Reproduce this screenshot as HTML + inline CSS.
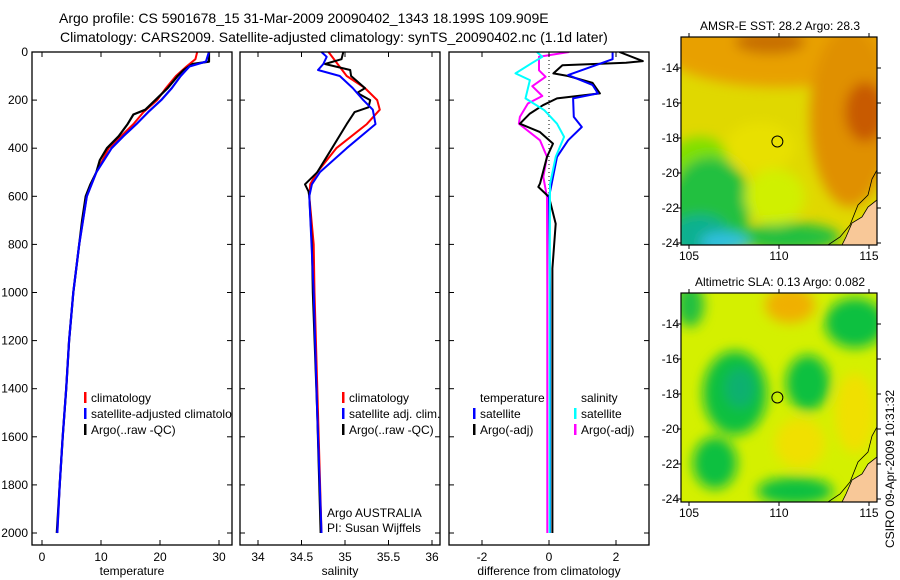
<!DOCTYPE html>
<html><head><meta charset="utf-8"><style>
html,body{margin:0;padding:0;background:#fff;}
svg{display:block;font-family:"Liberation Sans",sans-serif;}
</style></head><body>
<svg id="chart" width="900" height="580" viewBox="0 0 900 580">
<text x="59" y="23" font-size="14">Argo profile: CS 5901678_15 31-Mar-2009 20090402_1343 18.199S 109.909E</text>
<text x="60" y="42" font-size="14">Climatology: CARS2009. Satellite-adjusted climatology: synTS_20090402.nc (1.1d later)</text>
<g id="panels"></g>
<g id="maps"></g>
<text transform="translate(894,548) rotate(-90)" font-size="12">CSIRO 09-Apr-2009 10:31:32</text>
</svg>
<script>
// ---- data ----
const depthTicks=[0,200,400,600,800,1000,1200,1400,1600,1800,2000];
const tempTicks=[0,10,20,30];
const salTicks=[34,34.5,35,35.5,36];
const salTickLabels=["34","34.5","35","35.5","36"];
const diffTicks=[-2,0,2];
const tClimD=[0,30,60,100,150,200,250,300,400,500,600,800,1000,1200,1400,1600,1800,2000];
const tClimV=[26.3,26,24.5,22.7,21,19.5,17.2,15.5,11.3,9.2,7.6,6.3,5.3,4.6,4.1,3.5,3.0,2.6];
const tSatD=[0,40,60,100,150,200,250,300,350,400,500,600,800,1000,1200,1400,1600,1800,2000];
const tSatV=[28.3,27.8,25,23.5,22,20.2,18,16,13.8,11.8,9.2,7.6,6.3,5.3,4.6,4.1,3.5,3.0,2.6];
const tArgoD=[0,40,50,75,100,150,200,240,260,300,350,400,450,500,550,600,700,800,1000,1200,1400,1600,1800,2000];
const tArgoV=[28.3,28.3,25.5,24,23,21.3,19.2,17.5,15.5,14.5,13,11,9.8,9.2,8.2,7.4,6.8,6.3,5.3,4.6,4.1,3.5,3.0,2.5];
const sClimD=[0,100,150,200,240,300,400,500,550,600,800,1000,1500,2000];
const sClimV=[34.81,35.02,35.23,35.37,35.4,35.25,34.9,34.68,34.6,34.59,34.64,34.65,34.69,34.73];
const sSatD=[0,20,50,75,100,150,200,240,300,400,500,550,600,1000,1500,2000];
const sSatV=[34.73,34.79,34.75,34.69,34.94,35.09,35.21,35.32,35.35,35.02,34.71,34.62,34.59,34.64,34.68,34.73];
const sArgoD=[0,30,50,75,100,150,170,200,230,250,300,400,500,550,580,600,800,1000,1500,2000];
const sArgoV=[34.98,34.96,34.77,35.06,35.07,35.23,35.14,35.29,35.27,35.11,35.02,34.85,34.68,34.54,34.58,34.59,34.62,34.63,34.68,34.72];
const dTSatD=[0,30,96,137,172,193,270,312,367,436,603,1000,2000];
const dTSatV=[1.9,1.9,0.57,1.3,1.46,0.72,0.74,0.98,0.57,0.24,0,0.03,0.03];
const dTArgoD=[0,38,45,55,89,100,128,172,193,221,256,298,333,381,436,547,561,603,714,900,2000];
const dTArgoV=[2.1,2.8,2.3,0.4,0.13,0.57,1.3,1.52,0.24,-0.18,-0.57,-0.87,-0.27,0.12,-0.06,-0.27,-0.32,0,0.2,0.1,0.1];
const dSSatD=[0,20,45,89,117,193,242,298,353,436,550,1000,2000];
const dSSatV=[-0.36,-0.2,-0.5,-1.0,-0.57,-0.7,-0.14,0.24,0.45,0.2,0.03,0.02,0.02];
const dSArgoD=[0,20,76,103,142,183,214,270,298,367,436,519,603,1000,2000];
const dSArgoV=[0.6,-0.3,-0.3,-0.1,-0.5,-0.2,-0.63,-0.87,-0.9,-0.27,-0.06,-0.17,-0.06,-0.05,-0.05];
const lonTicks=[105,110,115];
const latTicks=[-14,-16,-18,-20,-22,-24];
const argoLon=109.909, argoLat=-18.199;
// ---- scales ----
const NS="http://www.w3.org/2000/svg";
const TOP=52,BOT=545;
const yD=d=>52+d*0.2405;
const xT=v=>42+v*5.9;
const xS=v=>258+(v-34)*87;
const xDf=v=>549+v*33.5;
function mk(tag,attrs,parent){const e=document.createElementNS(NS,tag);for(const k in attrs)e.setAttribute(k,attrs[k]);parent.appendChild(e);return e;}
const P=document.getElementById('panels');
const DEFS=mk('defs',{},document.getElementById('chart'));
function panel(name,x0,x1,xs,ticks,labels,xlabel,showDepth,clip){
  const outer=mk('g',{},P);
  
  
  const cp=mk('clipPath',{id:'pc'+x0},DEFS);
  mk('rect',{x:x0,y:TOP,width:x1-x0,height:BOT-TOP},cp);
  const g=mk('g',{},outer);
  const r=mk('rect',{x:x0,y:TOP,width:x1-x0,height:BOT-TOP,fill:'none',stroke:'#000','stroke-width':1.3},outer);
  
  
  ticks.forEach((t,i)=>{const x=xs(t);
    mk('line',{x1:x,x2:x,y1:BOT,y2:BOT-5,stroke:'#000'},outer);
    mk('line',{x1:x,x2:x,y1:TOP,y2:TOP+5,stroke:'#000'},outer);
    const tx=mk('text',{x:x,y:BOT+16,'font-size':12,'text-anchor':'middle'},outer);tx.textContent=labels[i];
    
    
  });
  depthTicks.forEach(d=>{const y=yD(d);
    mk('line',{x1:x0,x2:x0+5,y1:y,y2:y,stroke:'#000'},outer);
    mk('line',{x1:x1,x2:x1-5,y1:y,y2:y,stroke:'#000'},outer);
    if(showDepth){const tx=mk('text',{x:x0-4,y:y+4,'font-size':12,'text-anchor':'end'},outer);tx.textContent=d;
      
      }
  });
  const xl=mk('text',{x:(x0+x1)/2,y:575,'font-size':12,'text-anchor':'middle'},outer);xl.textContent=xlabel;
  
  
  if(clip) g.setAttribute('clip-path','url(#pc'+x0+')');
  return g;
}
function line(g,D,V,xs,color,w,name){
  const pts=D.map((d,i)=>xs(V[i]).toFixed(1)+','+yD(d).toFixed(1)).join(' ');
  const p=mk('polyline',{points:pts,fill:'none',stroke:color,'stroke-width':w,'stroke-linejoin':'round'},g);
  
  
}
function legend(g,x,y,color,text,name){
  if(color) mk('rect',{x:x,y:y-10,width:2.5,height:11,fill:color},g);
  const t=mk('text',{x:x+7,y:y,'font-size':12},g);t.textContent=text;
  
  
}
// temperature
let g1=panel('temperature-panel',32,232,xT,tempTicks,tempTicks.map(String),'temperature',true,true);
line(g1,tClimD,tClimV,xT,'#f00',2,'temp-climatology-line');
line(g1,tArgoD,tArgoV,xT,'#000',2.2,'temp-argo-line');
line(g1,tSatD,tSatV,xT,'#00f',2.2,'temp-satellite-line');
legend(g1,84,402,'#f00','climatology','legend-climatology');
legend(g1,84,418,'#00f','satellite-adjusted climatology','legend-satellite');
legend(g1,84,434,'#000','Argo(..raw -QC)','legend-argo');
// salinity
let g2=panel('salinity-panel',240,440,xS,salTicks,salTickLabels,'salinity',false,false);
line(g2,sClimD,sClimV,xS,'#f00',2,'sal-climatology-line');
line(g2,sArgoD,sArgoV,xS,'#000',2,'sal-argo-line');
line(g2,sSatD,sSatV,xS,'#00f',2,'sal-satellite-line');
legend(g2,342,402,'#f00','climatology','legend-climatology');
legend(g2,342,418,'#00f','satellite adj. clim.','legend-satellite');
legend(g2,342,434,'#000','Argo(..raw -QC)','legend-argo');
legend(g2,320,517,null,'Argo AUSTRALIA','argo-australia-label');
legend(g2,320,532,null,'PI: Susan Wijffels','pi-label');
// difference
let g3=panel('difference-panel',449,649,xDf,diffTicks,diffTicks.map(String),'difference from climatology',false,true);
mk('line',{x1:xDf(0),x2:xDf(0),y1:TOP,y2:yD(600),stroke:'#000','stroke-dasharray':'1,3'},g3);
line(g3,dSArgoD,dSArgoV,xDf,'#f0f',2,'diff-sal-argo-line');
line(g3,dTArgoD,dTArgoV,xDf,'#000',2,'diff-temp-argo-line');
line(g3,dTSatD,dTSatV,xDf,'#00f',2,'diff-temp-satellite-line');
line(g3,dSSatD,dSSatV,xDf,'#0ff',2,'diff-sal-satellite-line');
legend(g3,473,402,null,'temperature','legend-temperature-header');
legend(g3,473,418,'#00f','satellite','legend-temp-satellite');
legend(g3,473,434,'#000','Argo(-adj)','legend-temp-argo');
legend(g3,574,402,null,'salinity','legend-salinity-header');
legend(g3,574,418,'#0ff','satellite','legend-sal-satellite');
legend(g3,574,434,'#f0f','Argo(-adj)','legend-sal-argo');
// ---- maps ----
const M=document.getElementById('maps');
const defs=mk('defs',{},M);
const f=mk('filter',{id:'blur',x:'-20%',y:'-20%',width:'140%',height:'140%'},defs);
mk('feGaussianBlur',{stdDeviation:6},f);
function map(name,y0,y1,lat14,lat24,title,blobs,base){
  const xL=v=>689+(v-105)*18;
  const yL=v=>lat14+(-14-v)*(lat24-lat14)/10;
  const g=mk('g',{},M);
  
  
  const cp=mk('clipPath',{id:'cp'+y0},defs);
  mk('rect',{x:681,y:y0,width:196,height:y1-y0},cp);
  const inner=mk('g',{'clip-path':'url(#cp'+y0+')'},g);
  mk('rect',{x:681,y:y0,width:196,height:y1-y0,fill:base},inner);
  const bg=mk('g',{filter:'url(#blur)'},inner);
  blobs.forEach(b=>mk('ellipse',{cx:b[0],cy:y0+b[1],rx:b[2],ry:b[3],fill:b[4]},bg));
  const land=`877,${y1-45} 868,${y1-38} 862,${y1-28} 852,${y1-22} 846,${y1-8} 842,${y1} 877,${y1}`;
  const l=mk('polygon',{points:land,fill:'#f8c898',stroke:'#000','stroke-width':0.8},inner);
  
  
  mk('polyline',{points:`877,${y1-75} 872,${y1-66} 868,${y1-50} 858,${y1-40} 850,${y1-20} 840,${y1-8} 828,${y1}`,fill:'none',stroke:'#000','stroke-width':0.8},inner);
  mk('rect',{x:681,y:y0,width:196,height:y1-y0,fill:'none',stroke:'#000','stroke-width':1.2},g);
  lonTicks.forEach(v=>{const x=xL(v);mk('line',{x1:x,x2:x,y1:y1,y2:y1+4,stroke:'#000'},g);mk('line',{x1:x,x2:x,y1:y0,y2:y0-4,stroke:'#000'},g);
    const t=mk('text',{x:x,y:y1+15,'font-size':12,'text-anchor':'middle'},g);t.textContent=v;
    
    });
  latTicks.forEach(v=>{const y=yL(v);mk('line',{x1:681,x2:677,y1:y,y2:y,stroke:'#000'},g);mk('line',{x1:877,x2:881,y1:y,y2:y,stroke:'#000'},g);
    const t=mk('text',{x:679,y:y+4,'font-size':12,'text-anchor':'end'},g);t.textContent=v;
    
    });
  const c=mk('circle',{cx:xL(argoLon),cy:yL(argoLat),r:5.5,fill:'none',stroke:'#000','stroke-width':1},g);
  
  
  const t=mk('text',{x:780,y:y0-7,'font-size':12,'text-anchor':'middle'},g);t.textContent=title;
  
  
}
map('sst-map',37,245,68,243,'AMSR-E SST: 28.2 Argo: 28.3',[
 [780,10,120,40,'#e8a000'],[850,80,40,90,'#e09000'],[865,75,20,30,'#c85a00'],[770,5,35,12,'#c87000'],
 [700,125,30,25,'#80e000'],[760,110,35,25,'#e8e000'],[710,170,40,50,'#20c040'],[790,200,50,14,'#20c040'],
 [700,200,30,22,'#10b090'],[725,205,25,10,'#30c0e0'],[775,160,30,28,'#d0f000']
],'#e0d800');
map('sla-map',293,502,324,499,'Altimetric SLA: 0.13 Argo: 0.082',[
 [690,12,14,22,'#20c040'],[855,30,30,25,'#10c040'],[735,100,32,42,'#10c040'],[740,95,15,20,'#10b070'],
 [808,90,22,28,'#10c040'],[715,170,22,26,'#10c040'],[795,198,38,14,'#10c040'],[790,12,25,18,'#f0b000'],
 [800,150,25,25,'#f0e000'],[855,120,20,40,'#f0e000']
],'#d4f000');
</script>
</body></html>
